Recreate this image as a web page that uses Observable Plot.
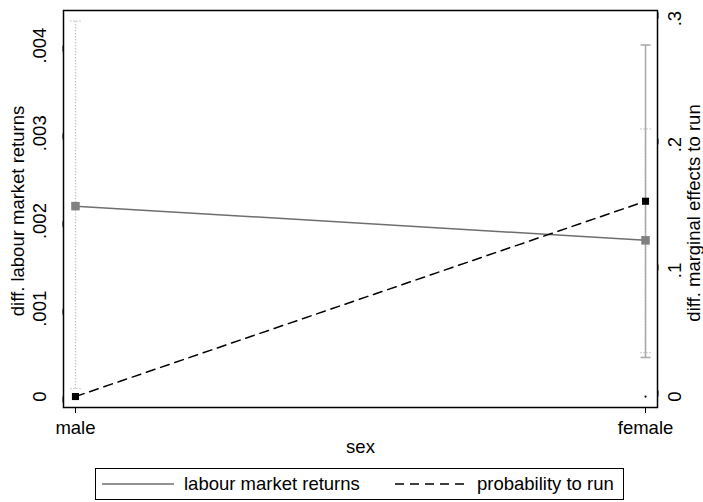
<!DOCTYPE html>
<html>
<head>
<meta charset="utf-8">
<script src="https://cdn.jsdelivr.net/npm/d3@7"></script>
<script src="https://cdn.jsdelivr.net/npm/@observablehq/plot@0.6"></script>
<style>
  html, body { margin: 0; padding: 0; background: white; }
  #wrap { position: relative; width: 703px; height: 502px; font-family: "Liberation Sans", Arial, sans-serif; }
  #legend { position: absolute; left: 95px; top: 468px; width: 529px; height: 32px; border: 1px solid black; box-sizing: border-box; font-size: 18.5px; }
  #legend .item { position: absolute; top: 0; height: 30px; display: flex; align-items: center; }
  #legend svg { display: block; }
  #legend span { margin-left: 10px; white-space: nowrap; }
</style>
</head>
<body>
<div id="wrap"><div id="chart"></div><div id="legend"></div></div>
<script>
// ---- data ----
const sexes = ["male", "female"];
const labourReturns = [0.00217, 0.00178];     // left axis
const labourLow = [0.00009, 0.00050];
const labourHigh = [0.00428, 0.00305];
const probRun = [0, 0.155];                    // right axis
const probLow = [null, 0.031];
const probHigh = [null, 0.279];
const probBase = [{sex: 1, v: 0}];             // small marker at female / 0
const leftTicks = [0, 0.001, 0.002, 0.003, 0.004];
const rightTicks = [0, 0.1, 0.2, 0.3];
const seriesNames = ["labour market returns", "probability to run"];
const leftTitle = "diff. labour market returns";
const rightTitle = "diff. marginal effects to run";
const xTitle = "sex";

// right-axis units expressed on the left-axis scale
const k = 0.01436;

const fmtTick = v => { const r = +(+v).toFixed(4); return r === 0 ? "0" : String(r).replace(/^0\./, ".").replace(/^-0\./, "-."); };

const labour = sexes.map((s, i) => ({i, v: labourReturns[i], lo: labourLow[i], hi: labourHigh[i]}));
const prob = sexes.map((s, i) => ({i, v: probRun[i] * k, lo: probLow[i] == null ? null : probLow[i] * k, hi: probHigh[i] == null ? null : probHigh[i] * k}));
const probCI = prob.filter(d => d.lo != null);

const capSymbol = { draw(ctx, size) { const w = Math.sqrt(size / Math.PI); ctx.moveTo(-w, 0); ctx.lineTo(w, 0); } };

const font = "Liberation Sans, Arial, sans-serif";
const fs = 18.5;

const chart = Plot.plot({
  width: 703,
  height: 458,
  marginLeft: 63,
  marginRight: 46,
  marginTop: 10,
  marginBottom: 51,
  style: {fontFamily: font, fontSize: fs + "px", color: "black", background: "white"},
  x: {type: "linear", domain: [-0.021, 1.021]},
  y: {domain: [-0.000125, 0.0044]},
  marks: [
    // labour returns CI (dotted)
    Plot.ruleX(labour, {x: "i", y1: "lo", y2: "hi", stroke: "#b0b0b0", strokeWidth: 1.3, strokeDasharray: "1,2"}),
    Plot.dot(labour, {x: "i", y: "lo", symbol: capSymbol, r: 5, stroke: "#b0b0b0", strokeWidth: 1.3, strokeDasharray: "1,2"}),
    Plot.dot(labour, {x: "i", y: "hi", symbol: capSymbol, r: 5, stroke: "#b0b0b0", strokeWidth: 1.3, strokeDasharray: "1,2"}),
    // probability CI (solid)
    Plot.ruleX(probCI, {x: "i", y1: "lo", y2: "hi", stroke: "#ababab", strokeWidth: 1.6}),
    Plot.dot(probCI, {x: "i", y: "lo", symbol: capSymbol, r: 5, stroke: "#ababab", strokeWidth: 1.6}),
    Plot.dot(probCI, {x: "i", y: "hi", symbol: capSymbol, r: 5, stroke: "#ababab", strokeWidth: 1.6}),
    // lines
    Plot.line(labour, {x: "i", y: "v", stroke: "#6e6e6e", strokeWidth: 1.5}),
    Plot.line(prob, {x: "i", y: "v", stroke: "black", strokeWidth: 1.5, strokeDasharray: "9,6"}),
    // markers
    Plot.dot(labour, {x: "i", y: "v", symbol: "square", r: 4.8, fill: "#808080"}),
    Plot.dot(prob, {x: "i", y: "v", symbol: "square", r: 4, fill: "black"}),
    Plot.dot(probBase, {x: "sex", y: d => d.v * k, r: 1.1, fill: "black"}),
    // axes
    Plot.axisY({anchor: "left", ticks: leftTicks, tickFormat: fmtTick, tickSize: 6, tickPadding: 17, rotate: -90, textAnchor: "middle", label: null}),
    Plot.axisY({anchor: "right", ticks: rightTicks.map(v => v * k), tickFormat: d => fmtTick(+(d / k).toFixed(3)), tickSize: 6, tickPadding: 12, rotate: -90, textAnchor: "middle", label: null}),
    Plot.axisX({ticks: sexes.map((s, i) => i), tickFormat: i => sexes[i], tickSize: 6, tickPadding: 7, label: null}),
    Plot.text([xTitle], {text: d => d, frameAnchor: "bottom", dy: 45, fontSize: fs, textAnchor: "middle"}),
    Plot.text([leftTitle], {text: d => d, frameAnchor: "left", dx: -45, dy: 2, rotate: -90, fontSize: fs, textAnchor: "middle"}),
    Plot.text([rightTitle], {text: d => d, frameAnchor: "right", dx: 37, dy: 4, rotate: -90, fontSize: fs, textAnchor: "middle"}),
    Plot.frame({stroke: "black", strokeWidth: 1.5})
  ]
});
document.getElementById("chart").appendChild(chart);

// legend
const legend = d3.select("#legend");
const items = [
  {left: 6, name: seriesNames[0], stroke: "#6e6e6e", dash: null},
  {left: 299, name: seriesNames[1], stroke: "black", dash: "9,6"}
];
for (const it of items) {
  const div = legend.append("div").attr("class", "item").style("left", it.left + "px");
  const s = div.append("svg").attr("width", 72).attr("height", 10);
  s.append("line").attr("x1", 0).attr("x2", 72).attr("y1", 5).attr("y2", 5)
    .attr("stroke", it.stroke).attr("stroke-width", 1.5)
    .attr("stroke-dasharray", it.dash);
  div.append("span").text(it.name);
}
</script>
</body>
</html>
